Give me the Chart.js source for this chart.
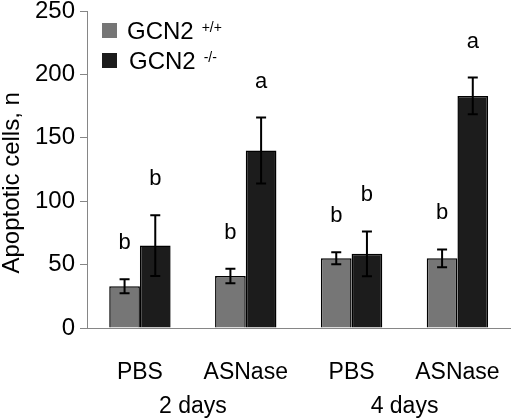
<!DOCTYPE html>
<html>
<head>
<meta charset="utf-8">
<script src="https://cdn.jsdelivr.net/npm/chart.js@4"></script>
<style>
  html, body { margin: 0; padding: 0; background: #fff; }
  #wrap { width: 531px; height: 420px; position: relative; }
</style>
</head>
<body>
<div id="wrap"><canvas id="apoptosisChart"></canvas></div>
<script>
// values
const treatments = ['PBS', 'ASNase', 'PBS', 'ASNase'];
const timepoints = ['2 days', '4 days'];
const yTicks = [0, 50, 100, 150, 200, 250];

const wildType = [33, 41, 55, 55];
const wildTypeErr = [5.5, 5.8, 4.7, 7];
const knockout = [65, 140, 58.5, 183];
const knockoutErr = [24, 26, 17.7, 14.5];

const wildTypeLetters = ['b', 'b', 'b', 'b'];
const knockoutLetters = ['b', 'a', 'b', 'a'];

const seriesName = ['GCN2', 'GCN2'];
const seriesSup = ['+/+', '-/-'];

const FONT = 'Arial, "Liberation Sans", sans-serif';
const GREY = '#767676';
const DARK = '#1c1c1c';
const AXIS = '#868686';

const errors = [wildTypeErr, knockoutErr];
const letters = [wildTypeLetters, knockoutLetters];

// error bars + significance letters
const barExtras = {
    id: 'barExtras',
    afterDatasetsDraw(chart) {
        const ctx = chart.ctx;
        const y = chart.scales.y;
        ctx.save();
        chart.data.datasets.forEach((ds, di) => {
            const meta = chart.getDatasetMeta(di);
            meta.data.forEach((bar, i) => {
                const v = ds.data[i];
                const e = errors[di][i];
                const top = y.getPixelForValue(v + e);
                const bot = y.getPixelForValue(v - e);
                ctx.strokeStyle = '#000';
                ctx.lineWidth = 2;
                ctx.beginPath();
                ctx.moveTo(bar.x, top);
                ctx.lineTo(bar.x, bot);
                ctx.moveTo(bar.x - 5, top);
                ctx.lineTo(bar.x + 5, top);
                ctx.moveTo(bar.x - 5, bot);
                ctx.lineTo(bar.x + 5, bot);
                ctx.stroke();

                ctx.fillStyle = '#000';
                ctx.font = '22px ' + FONT;
                ctx.textAlign = 'center';
                ctx.textBaseline = 'alphabetic';
                ctx.fillText(letters[di][i], bar.x, top - 30);
            });
        });
        ctx.restore();
    }
};

// legend with superscript genotype
const supLegend = {
    id: 'supLegend',
    afterDraw(chart) {
        const ctx = chart.ctx;
        ctx.save();
        chart.data.datasets.forEach((ds, di) => {
            const top = 23 + di * 30;
            ctx.fillStyle = ds.backgroundColor;
            ctx.fillRect(102, top, 15, 15);
            ctx.fillStyle = '#000';
            ctx.textAlign = 'left';
            ctx.textBaseline = 'alphabetic';
            ctx.font = '24px ' + FONT;
            const tx = 127 + di * 2;
            ctx.fillText(seriesName[di], tx, top + 16);
            const w = ctx.measureText(seriesName[di]).width;
            ctx.font = '14px ' + FONT;
            ctx.fillText(seriesSup[di], tx + w + 8, top + 9);
        });
        ctx.restore();
    }
};

new Chart(document.getElementById('apoptosisChart'), {
    type: 'bar',
    data: {
        labels: treatments,
        datasets: [
            {
                label: seriesName[0] + ' ' + seriesSup[0],
                data: wildType,
                backgroundColor: GREY,
                borderColor: '#000',
                borderWidth: 1.5
            },
            {
                label: seriesName[1] + ' ' + seriesSup[1],
                data: knockout,
                backgroundColor: DARK,
                borderColor: '#000',
                borderWidth: 1.5
            }
        ]
    },
    options: {
        responsive: true,
        maintainAspectRatio: false,
        animation: false,
        categoryPercentage: 0.58,
        barPercentage: 1.0,
        layout: { padding: { top: 11, right: 3, left: 0, bottom: 0 } },
        plugins: {
            legend: { display: false },
            tooltip: { enabled: false }
        },
        scales: {
            x: {
                type: 'category',
                position: 'bottom',
                weight: 0,
                grid: { display: false, drawTicks: false },
                border: { display: true, color: AXIS, width: 1 },
                ticks: { color: '#000', font: { family: FONT, size: 23 }, padding: 31 },
                afterFit(scale) { scale.height = 60; }
            },
            x2: {
                type: 'category',
                position: 'bottom',
                weight: 1,
                labels: timepoints,
                offset: true,
                grid: { display: false, drawTicks: false },
                border: { display: false },
                ticks: { color: '#000', font: { family: FONT, size: 23 }, padding: 5 },
                afterFit(scale) { scale.height = 32; }
            },
            y: {
                min: yTicks[0],
                max: yTicks[yTicks.length - 1],
                afterBuildTicks(scale) {
                    scale.ticks = yTicks.map(v => ({ value: v }));
                },
                grid: { display: true, drawOnChartArea: false, drawTicks: true, tickLength: 7, color: AXIS },
                border: { display: true, color: AXIS, width: 1 },
                ticks: { color: '#000', font: { family: FONT, size: 24, lineHeight: 1 }, padding: 5 },
                title: {
                    display: true,
                    text: 'Apoptotic cells, n    ',
                    color: '#000',
                    font: { family: FONT, size: 24 },
                    padding: { top: -2, bottom: 0 }
                },
                afterFit(scale) {
                    scale.width = 87;
                    scale.paddingTop = 0;
                    scale.paddingBottom = 0;
                }
            }
        }
    },
    plugins: [barExtras, supLegend]
});
</script>
</body>
</html>
